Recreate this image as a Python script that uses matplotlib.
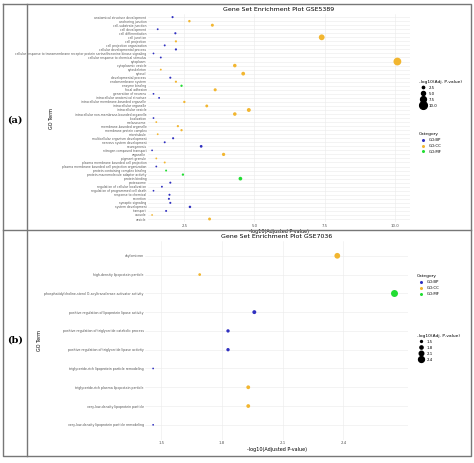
import numpy as np
import matplotlib
matplotlib.use("Agg")
import matplotlib.pyplot as plt
from matplotlib.lines import Line2D

# panel (a) GSE5389
terms_a = ["anatomical structure development", "anchoring junction", "cell-substrate junction",
           "cell development", "cell differentiation", "cell junction", "cell projection",
           "cell projection organization", "cellular developmental process",
           "cellular response to transmembrane receptor protein serine/threonine kinase signaling",
           "cellular response to chemical stimulus", "cytoplasm", "cytoplasmic vesicle", "cytoskeleton",
           "cytosol", "developmental process", "endomembrane system", "enzyme binding", "focal adhesion",
           "generation of neurons", "intracellular anatomical structure",
           "intracellular membrane-bounded organelle", "intracellular organelle",
           "intracellular vesicle", "intracellular non-membrane-bounded organelle",
           "localization", "melanosome", "membrane-bounded organelle", "membrane protein complex",
           "microtubule", "multicellular organism development", "nervous system development",
           "neurogenesis", "nitrogen compound transport", "organelle", "pigment granule",
           "plasma membrane bounded cell projection", "plasma membrane bounded cell projection organization",
           "protein-containing complex binding", "protein-macromolecule adaptor activity",
           "protein binding", "proteasome", "regulation of cellular localization",
           "regulation of programmed cell death", "response to chemical", "secretion",
           "synaptic signaling", "system development", "transport", "vacuole", "vesicle"]
vals_a = [2.08, 2.68, 3.5, 1.55, 2.18, 7.4, 2.2, 1.8, 2.2, 1.4, 1.66, 10.1, 4.3, 1.66, 4.6,
          2.0, 2.2, 2.4, 3.6, 1.4, 1.6, 2.5, 3.3, 4.8, 4.3,
          1.4, 1.5, 2.27, 2.4, 1.55, 2.1, 1.8, 3.1, 1.35, 3.9, 1.5, 1.8, 1.5, 1.85, 2.45,
          4.5, 2.0, 1.7, 1.4, 1.97, 1.95, 2.0, 2.7, 1.85, 1.35, 3.4]
cats_a = ["BP", "CC", "CC", "BP", "BP", "CC", "CC", "BP", "BP", "BP", "BP", "CC", "CC", "CC", "CC",
          "BP", "CC", "MF", "CC", "BP", "BP", "CC", "CC", "CC", "CC",
          "BP", "CC", "CC", "CC", "CC", "BP", "BP", "BP", "BP", "CC", "CC", "CC", "BP", "MF", "MF",
          "MF", "BP", "BP", "BP", "BP", "BP", "BP", "BP", "BP", "CC", "CC"]

# panel (b) GSE7036
terms_b = ["chylomicron", "high-density lipoprotein particle",
           "phosphatidylcholine-sterol O-acyltransferase activator activity",
           "positive regulation of lipoprotein lipase activity",
           "positive regulation of triglyceride catabolic process",
           "positive regulation of triglyceride lipase activity",
           "triglyceride-rich lipoprotein particle remodeling",
           "triglyceride-rich plasma lipoprotein particle",
           "very-low-density lipoprotein particle",
           "very-low-density lipoprotein particle remodeling"]
vals_b = [2.37, 1.69, 2.65, 1.96, 1.83, 1.83, 1.46, 1.93, 1.93, 1.46]
cats_b = ["CC", "CC", "MF", "BP", "BP", "BP", "BP", "CC", "CC", "BP"]

colors = {"BP": "#3030C0", "CC": "#F2B630", "MF": "#22DD33"}

def size_a(v):
    return 1.0 + 0.3 * np.asarray(v) ** 2

def size_b(v):
    d = 1.2 + (np.asarray(v) - 1.4) * 3.6
    return (0.72 * d) ** 2 * 1.5

fig = plt.figure(figsize=(4.74, 4.63), dpi=100)

def panel(rect, terms, vals, cats, sizefn, title, xticks, xlim, fs):
    ax = fig.add_axes(rect)
    y = np.arange(len(terms))[::-1]
    for c in ["BP", "CC", "MF"]:
        m = np.array(cats) == c
        ax.scatter(np.array(vals)[m], y[m], s=sizefn(np.array(vals)[m]), color=colors[c], zorder=3,
                   linewidths=0)
    ax.set_yticks(y)
    ax.set_yticklabels(terms, fontsize=fs, color="#555555")
    ax.set_xticks(xticks)
    ax.set_xticklabels([f"{t:.1f}" for t in xticks], fontsize=2.8, color="#555555")
    ax.set_xlim(*xlim)
    ax.set_ylim(-0.8, len(terms) - 0.2)
    ax.grid(color="#ebebeb", lw=0.4)
    ax.tick_params(length=0, pad=1)
    for s in ax.spines.values():
        s.set_visible(False)
    ax.set_title(title, fontsize=4.5, pad=2)
    ax.set_xlabel("-log10(Adjusted P-value)", fontsize=3.5, labelpad=1)
    ax.set_ylabel("GO Term", fontsize=3.5, labelpad=2)
    return ax

ax1 = panel([0.312, 0.52, 0.553, 0.45], terms_a, vals_a, cats_a, size_a,
            "Gene Set Enrichment Plot GSE5389", [2.5, 5.0, 7.5, 10.0], (1.2, 10.55), 2.2)
ax1.yaxis.set_label_coords(-0.36, 0.5)
ax2 = panel([0.306, 0.05, 0.555, 0.43], terms_b, vals_b, cats_b, size_b,
            "Gene Set Enrichment Plot GSE7036", [1.5, 1.8, 2.1, 2.4], (1.42, 2.72), 2.3)

def legends(ax, svals, sizefn, anchor_size, anchor_cat):
    sh = [Line2D([], [], ls="", marker="o", color="black", markersize=np.sqrt(sizefn(v)))
          for v in svals]
    l1 = ax.legend(sh, [f"{v:.1f}" for v in svals], title="-log10(Adj. P-value)", fontsize=2.8,
                   title_fontsize=3.2, frameon=False, loc="upper left",
                   bbox_to_anchor=anchor_size, alignment="left", handletextpad=0.5)
    ax.add_artist(l1)
    ch = [Line2D([], [], ls="", marker="o", color=colors[c], markersize=1.2) for c in colors]
    ax.legend(ch, ["GO:" + c for c in colors], title="Category", fontsize=2.8,
              title_fontsize=3.2, frameon=False, loc="upper left",
              bbox_to_anchor=anchor_cat, alignment="left", handletextpad=0.5)

legends(ax1, [2.5, 5.0, 7.5, 10.0], size_a, (1.02, 0.7), (1.02, 0.45))
legends(ax2, [1.5, 1.8, 2.1, 2.4], size_b, (1.02, 0.55), (1.02, 0.85))

# table frame
k = "#777777"
fig.add_artist(Line2D([0.006, 0.994, 0.994, 0.006, 0.006], [0.992, 0.992, 0.015, 0.015, 0.992],
                      color=k, lw=1.0))
fig.add_artist(Line2D([0.006, 0.994], [0.503, 0.503], color=k, lw=1.0))
fig.add_artist(Line2D([0.058, 0.058], [0.015, 0.992], color=k, lw=1.0))
fig.text(0.032, 0.74, "(a)", fontsize=7, fontweight="bold", family="serif", ha="center", va="center")
fig.text(0.032, 0.265, "(b)", fontsize=7, fontweight="bold", family="serif", ha="center", va="center")

fig.savefig("out.png", dpi=100, facecolor="white")
